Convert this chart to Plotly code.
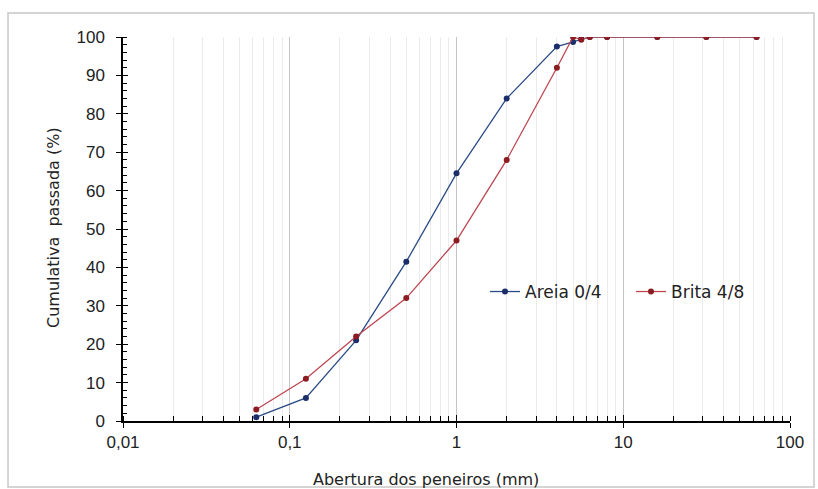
import plotly.graph_objects as go

# sieve openings (mm)
sieves = [0.063, 0.125, 0.25, 0.5, 1, 2, 4, 5, 5.6, 6.3, 8, 16, 31.5, 63]
areia = [1, 6, 21, 41.5, 64.5, 84, 97.5, 98.7, 99.5, 100, 100, 100, 100, 100]
brita = [3, 11, 22, 32, 47, 68, 92, 100, 99.3, 100, 100, 100, 100, 100]

x_tickvals = [0.01, 0.1, 1, 10, 100]
x_ticktext = ["0,01", "0,1", "1", "10", "100"]
y_tickvals = [0, 10, 20, 30, 40, 50, 60, 70, 80, 90, 100]

TICKFONT = "Liberation Sans"
TEXTFONT = "DejaVu Sans"

fig = go.Figure()
fig.add_trace(go.Scatter(x=sieves, y=areia, name="Areia 0/4", mode="lines+markers",
                         line=dict(color="#2a4b86", width=1.3),
                         marker=dict(color="#1b2d6b", size=6)))
fig.add_trace(go.Scatter(x=sieves, y=brita, name="Brita 4/8", mode="lines+markers",
                         line=dict(color="#bd4650", width=1.3),
                         marker=dict(color="#8c1c22", size=6)))
# empty trace to host overlay axes for crossing major ticks
fig.add_trace(go.Scatter(x=[], y=[], xaxis="x2", yaxis="y2", showlegend=False, hoverinfo="skip"))

fig.update_layout(
    width=818, height=489,
    margin=dict(l=123, r=28, t=37, b=68),
    paper_bgcolor="white", plot_bgcolor="white",
    font=dict(family=TEXTFONT, color="#222222"),
    showlegend=True,
    legend=dict(orientation="h", x=(485 - 123) / 667, y=0.336, xanchor="left", yanchor="middle",
                font=dict(size=17, family=TEXTFONT, color="#222"), bgcolor="rgba(0,0,0,0)",
                entrywidth=101, entrywidthmode="pixels"),
    xaxis=dict(type="log", range=[-2, 2], tickvals=x_tickvals, ticktext=x_ticktext,
               ticks="outside", ticklen=5, tickcolor="black", tickwidth=1.3,
               showline=True, linecolor="black", linewidth=1.5,
               showgrid=True, gridcolor="#c4c4c4", gridwidth=1, zeroline=False,
               tickfont=dict(size=17, family=TICKFONT, color="#222"),
               ticklabelstandoff=0,
               minor=dict(dtick="D1", ticks="inside", ticklen=5, tickcolor="black", tickwidth=1.3,
                          showgrid=True, gridcolor="#ebebeb", gridwidth=1)),
    yaxis=dict(range=[0, 100], tickvals=y_tickvals,
               ticks="outside", ticklen=5, tickcolor="black", tickwidth=1.3,
               showline=True, linecolor="black", linewidth=1.5,
               showgrid=False, zeroline=False,
               tickfont=dict(size=17, family=TICKFONT, color="#222"),
               ticklabelstandoff=8,
               minor=dict(dtick=2, ticks="inside", ticklen=4, tickcolor="black", tickwidth=1, showgrid=False)),
    xaxis2=dict(type="log", range=[-2, 2], overlaying="x", anchor="y", side="bottom",
                tickvals=x_tickvals, showticklabels=False, ticks="inside", ticklen=6,
                tickcolor="black", tickwidth=1.3, showgrid=False, showline=False, zeroline=False),
    yaxis2=dict(range=[0, 100], overlaying="y", anchor="x", side="left",
                tickvals=y_tickvals, showticklabels=False, ticks="inside", ticklen=5,
                tickcolor="black", tickwidth=1.3, showgrid=False, showline=False, zeroline=False),
    annotations=[
        dict(text="Abertura dos peneiros (mm)", xref="paper", yref="paper",
             x=(426 - 123) / 667, y=(421 - 479) / 384, xanchor="center", yanchor="middle",
             showarrow=False, font=dict(size=16, family=TEXTFONT, color="#222")),
        dict(text="Cumulativa  passada (%)", xref="paper", yref="paper",
             x=(53 - 123) / 667, y=(421 - 228) / 384, xanchor="center", yanchor="middle",
             textangle=-90, showarrow=False, font=dict(size=16, family=TEXTFONT, color="#222")),
    ],
    shapes=[dict(type="rect", xref="paper", yref="paper",
                 x0=-0.1724, x1=1.036, y0=-0.172, y1=1.0625,
                 line=dict(color="#c8c8c8", width=1.5), fillcolor="rgba(0,0,0,0)", layer="below")],
)

fig.write_html("out.html", config={"displayModeBar": False},
               post_script="document.body.style.margin='0';document.body.style.padding='0';")
